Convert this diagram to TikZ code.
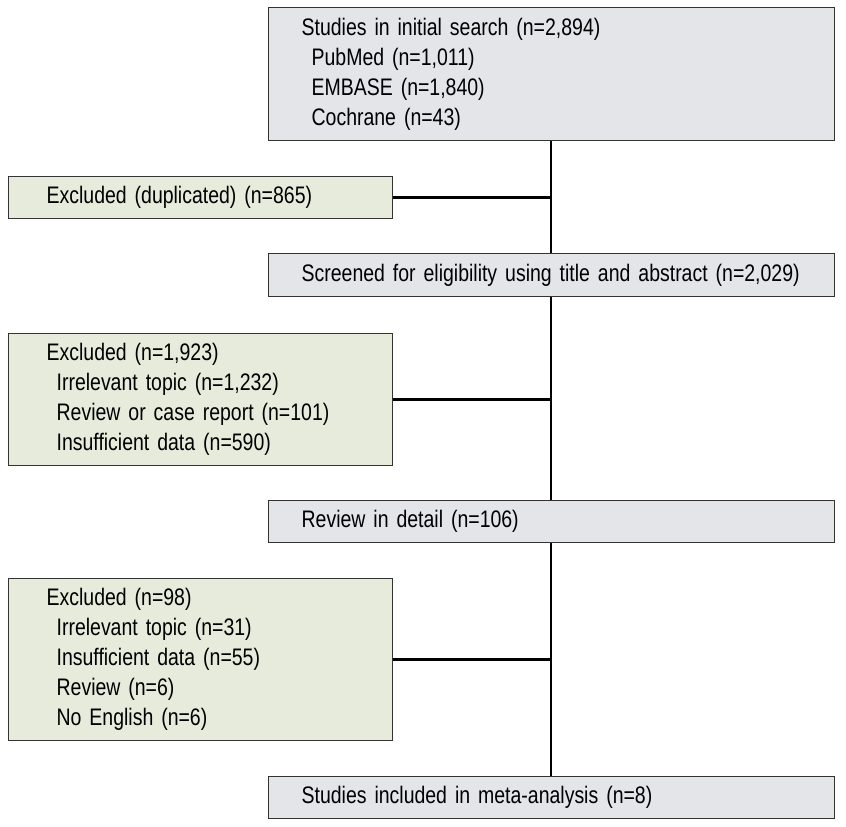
\documentclass[tikz,border=0pt]{standalone}
\usepackage{fontspec}
\setmainfont{Liberation Sans}[FakeStretch=0.815, WordSpace=0.75]
\definecolor{mainfill}{HTML}{E3E5E9}
\definecolor{exclfill}{HTML}{E7EBDC}
\definecolor{boxline}{HTML}{333333}
\newcommand{\indentline}[1]{\hspace*{0.25cm}#1}

\begin{document}
\begin{tikzpicture}[
    mainbox/.style={draw=boxline, line width=0.9pt, fill=mainfill, anchor=north west,
        text width=12.5cm, inner xsep=0.825cm, inner ysep=0pt, align=left,
        font=\fontsize{17}{21.3}\selectfont}, % grey boxes on the right
    exclbox/.style={draw=boxline, line width=0.9pt, fill=exclfill, anchor=north west,
        text width=7.7cm, inner xsep=0.95cm, inner ysep=0pt, align=left,
        font=\fontsize{17}{21.3}\selectfont}, % green boxes on the left
    link/.style={line width=2pt, black} % connectors
]

    % Canvas
    \useasboundingbox (0,0) rectangle (21.15,-20.675);

    % Main column
    \node[mainbox, minimum height=3.325cm] (search) at (6.7,-0.175)
        {Studies in initial search (n=2,894)\\
         \indentline{PubMed (n=1,011)}\\
         \indentline{EMBASE (n=1,840)}\\
         \indentline{Cochrane (n=43)}};
    \node[mainbox, minimum height=1.075cm] (screened) at (6.7,-6.325)
        {\mbox{Screened for eligibility using title and abstract (n=2,029)}};
    \node[mainbox, minimum height=1.05cm] (review) at (6.7,-12.5)
        {Review in detail (n=106)};
    \node[mainbox, minimum height=1.05cm] (included) at (6.7,-19.4)
        {Studies included in meta-analysis (n=8)};

    % Excluded boxes
    \node[exclbox, minimum height=1.05cm] (dupl) at (0.2,-4.4)
        {Excluded (duplicated) (n=865)};
    \node[exclbox, minimum height=3.3cm] (exclA) at (0.2,-8.325)
        {Excluded (n=1,923)\\
         \indentline{Irrelevant topic (n=1,232)}\\
         \indentline{Review or case report (n=101)}\\
         \indentline{Insufficient data (n=590)}};
    \node[exclbox, minimum height=4.05cm] (exclB) at (0.2,-14.45)
        {Excluded (n=98)\\
         \indentline{Irrelevant topic (n=31)}\\
         \indentline{Insufficient data (n=55)}\\
         \indentline{Review (n=6)}\\
         \indentline{No English (n=6)}};

    % Trunk line
    \coordinate (trunk) at (13.775,0);
    \draw[link] (search.south -| trunk) -- (screened.north -| trunk);
    \draw[link] (screened.south -| trunk) -- (review.north -| trunk);
    \draw[link] (review.south -| trunk) -- (included.north -| trunk);

    % Side branches
    \draw[link] (dupl.east) -- (dupl.east -| trunk);
    \draw[link] (exclA.east) -- (exclA.east -| trunk);
    \draw[link] (exclB.east) -- (exclB.east -| trunk);

\end{tikzpicture}
\end{document}
